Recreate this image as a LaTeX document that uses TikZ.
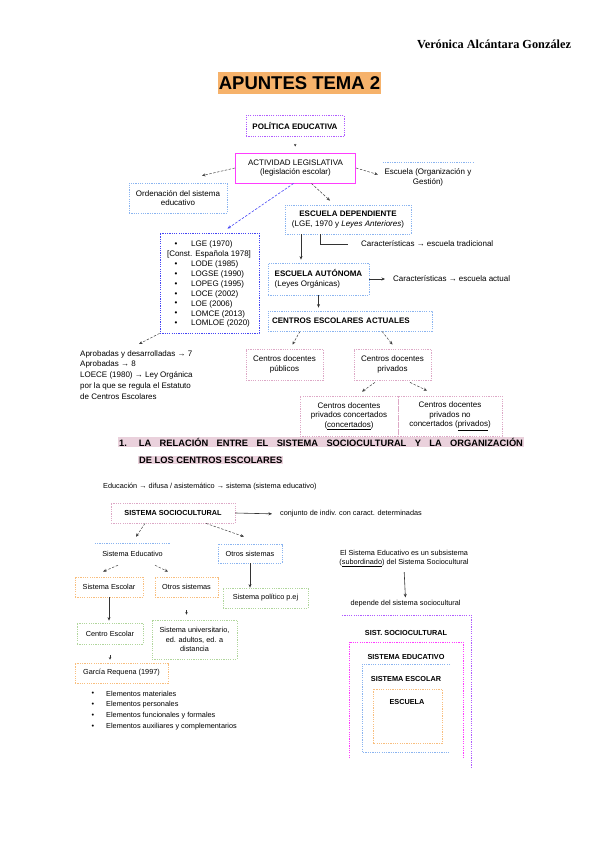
\documentclass[tikz,border=0pt]{standalone}
\usepackage{fontspec}
\setmainfont{Liberation Sans}
\newfontfamily\authorfont{Liberation Serif}
\usetikzlibrary{positioning, arrows.meta, calc}

\definecolor{lilac}{HTML}{B05CFF}
\definecolor{fuchsia}{HTML}{FF3DFF}
\definecolor{skyline}{HTML}{8AB4F0}
\definecolor{inkblue}{HTML}{4545F5}
\definecolor{rosy}{HTML}{DDA8C6}
\definecolor{peach}{HTML}{F8BE7E}
\definecolor{sage}{HTML}{B0D69C}
\definecolor{titlefill}{HTML}{F6B26B}
\definecolor{headfill}{HTML}{EAD1DC}

\begin{document}
\begin{tikzpicture}[
    x=1pt, y=-1pt,
    txt/.style={font=\fontsize{8}{9.8}\selectfont, align=center, inner sep=1pt},
    small/.style={font=\fontsize{7.3}{9.3}\selectfont, align=center, inner sep=1pt},
    dots/.style={dash pattern=on 1.2pt off 1.1pt, line width=0.75pt},
    lilacbox/.style={txt, draw=lilac, dots},
    bluebox/.style={txt, draw=skyline, dots},
    inkbox/.style={txt, draw=inkblue, dots},
    pinkbox/.style={txt, draw=rosy, dots},
    orangebox/.style={small, draw=peach, dots},
    greenbox/.style={small, draw=sage, dots},
    dasharrow/.style={-{Stealth[length=3.5pt,width=3pt]}, dash pattern=on 2.5pt off 1.5pt, line width=0.5pt, draw=black!75},
    solidarrow/.style={-{Stealth[length=3.5pt,width=3pt]}, line width=0.6pt, draw=black!80},
    bluearrow/.style={-{Stealth[length=3.5pt,width=3pt]}, dash pattern=on 2.5pt off 1.5pt, line width=0.6pt, draw=inkblue},
    tinyarrow/.style={-{Stealth[length=2.5pt,width=2.5pt]}, line width=0.5pt, draw=black!80}
]
\useasboundingbox (0,0) rectangle (600,848);

% cabecera
\node[font=\authorfont\bfseries\fontsize{12.3}{14}\selectfont] (author) at (494,44) {Verónica Alcántara González};
\node[fill=titlefill, font=\bfseries\fontsize{18.5}{19}\selectfont, inner xsep=1pt, minimum height=22] (title) at (299.5,83) {APUNTES TEMA 2};

% mapa de la legislacion
\node[lilacbox, minimum width=98, minimum height=21] (pol) at (295,126) {\textbf{POLÍTICA EDUCATIVA}};
\node[txt, draw=fuchsia, line width=1pt, minimum width=120, minimum height=30] (act) at (295.5,168) {ACTIVIDAD LEGISLATIVA\\(legislación escolar)};
\node[bluebox, minimum width=98, minimum height=30] (ord) at (178,198) {Ordenación del sistema\\educativo};
\node[txt, minimum width=90, minimum height=29] (gest) at (428,177.5) {Escuela (Organización y\\Gestión)};
\draw[skyline, dots] (gest.north west) -- (gest.north east);
\node[bluebox, minimum width=126, minimum height=29] (dep) at (348,219.5) {\textbf{ESCUELA DEPENDIENTE}\\(LGE, 1970 y \textit{Leyes Anteriores})};
\node[inkbox, minimum width=99, minimum height=100] (list) at (209.5,283) {};
\node[txt] (const) at (209,254.5) {[Const. Española 1978]};
\foreach \law/\ypos [count=\i] in {LGE (1970)/244.5, LODE (1985)/264.5, LOGSE (1990)/274.5, LOPEG (1995)/284.5, LOCE (2002)/294.5, LOE (2006)/304, LOMCE (2013)/314, LOMLOE (2020)/323.5}
{
    \node[txt] (dot\i) at (176,\ypos) {\textbullet};
    \node[txt, anchor=west] (law\i) at (190,\ypos) {\law};
}
\node[txt, anchor=west] (trad) at (360,244) {Características → escuela tradicional};
\node[bluebox, minimum width=101, minimum height=32, align=left] (aut) at (318.5,279) {\textbf{ESCUELA AUTÓNOMA}\\(Leyes Orgánicas)};
\node[txt, anchor=west] (actual) at (392,279) {Características → escuela actual};
\node[bluebox, minimum width=164, minimum height=20, text width=156, align=left] (cea) at (350,321) {\textbf{CENTROS ESCOLARES ACTUALES}};
\node[txt, align=left, anchor=north west, font=\fontsize{8}{10.8}\selectfont] (laws) at (79,349) {Aprobadas y desarrolladas → 7\\Aprobadas → 8\\LOECE (1980) → Ley Orgánica\\por la que se regula el Estatuto\\de Centros Escolares};
\node[pinkbox, minimum width=77, minimum height=31] (pub) at (284.5,364.5) {Centros docentes\\públicos};
\node[pinkbox, minimum width=77, minimum height=31] (priv) at (392.5,364.5) {Centros docentes\\privados};
\node[pinkbox, minimum width=98, minimum height=40] (conc) at (349,416) {Centros docentes\\privados concertados\\(\underline{concertados})};
\node[pinkbox, minimum width=104, minimum height=40] (noconc) at (450,416) {Centros docentes\\privados no\\concertados (\underline{privados})};

\draw[tinyarrow, shorten <=7pt, shorten >=6pt] (pol) -- (act);
\draw[dasharrow] (act.west) -- ([xshift=24pt,yshift=7pt]ord.north);
\draw[dasharrow] (act.east) -- ([xshift=-5pt,yshift=3pt]gest.west);
\draw[dasharrow] ([xshift=16pt]act.south) -- ([xshift=-18pt,yshift=4pt]dep.north);
\draw[bluearrow] ([xshift=-2pt]act.south) -- ([xshift=18pt,yshift=4pt]list.north);
\draw[dasharrow] (list.south west) -- ([xshift=60pt,yshift=5pt]laws.north west);
\draw[line width=0.6pt, draw=black!80, shorten >=12pt] ([xshift=-28pt]dep.south) |- (trad.west);
\draw[solidarrow, shorten >=3pt] ([xshift=-47pt]dep.south) -- ([xshift=-17.5pt]aut.north);
\draw[solidarrow, shorten >=7pt] (aut.east) -- (actual.west);
\draw[solidarrow, shorten >=3pt] (aut.south) -- (aut.south |- cea.north);
\draw[dasharrow] ([xshift=-50pt]cea.south) -- ([xshift=8pt,yshift=4pt]pub.north);
\draw[dasharrow] ([xshift=32pt]cea.south) -- ([yshift=4pt]priv.north);
\draw[dasharrow] ([xshift=-17.5pt,yshift=-2pt]priv.south) -- ([xshift=13pt,yshift=4pt]conc.north);
\draw[dasharrow] ([xshift=17.5pt,yshift=-2pt]priv.south) -- ([xshift=-23pt,yshift=5pt]noconc.north);

% apartado 1
\node[fill=headfill, inner sep=1pt, anchor=west, font=\bfseries\fontsize{9.3}{11}\selectfont] (head1) at (118,442) {1.\hspace{12pt}\makebox[384pt][s]{LA RELACIÓN ENTRE EL SISTEMA SOCIOCULTURAL Y LA ORGANIZACIÓN}};
\node[fill=headfill, inner sep=1pt, anchor=west, font=\bfseries\fontsize{9.3}{11}\selectfont] (head2) at (138,460) {DE LOS CENTROS ESCOLARES};

\node[small, anchor=west] (edu) at (102,487) {Educación → difusa / asistemático → sistema (sistema educativo)};
\node[pinkbox, small, minimum width=124, minimum height=20] (ssc) at (173,513) {\textbf{SISTEMA SOCIOCULTURAL}};
\node[small, anchor=west] (conj) at (279,514) {conjunto de indiv. con caract. determinadas};
\node[small, minimum width=75, minimum height=19] (sed) at (132.5,553.5) {Sistema Educativo};
\draw[skyline, dots] (sed.north west) -- (sed.north east);
\node[bluebox, small, minimum width=64, minimum height=19] (otr) at (250,553.5) {Otros sistemas};
\node[orangebox, minimum width=68, minimum height=20] (ses) at (109,587) {Sistema Escolar};
\node[orangebox, minimum width=63, minimum height=20] (otr2) at (186.5,587) {Otros sistemas};
\node[greenbox, minimum width=85, minimum height=20] (pol2) at (265.5,598) {Sistema político p.ej};
\node[greenbox, minimum width=66, minimum height=21] (cen) at (110,633.5) {Centro Escolar};
\node[greenbox, minimum width=85, minimum height=39] (univ) at (194.5,639.5) {Sistema universitario,\\ed. adultos, ed. a\\distancia};
\node[orangebox, minimum width=93, minimum height=20] (gar) at (121.5,673) {García Requena (1997)};
\foreach \elem [count=\i] in {Elementos materiales, Elementos personales, Elementos funcionales y formales, Elementos auxiliares y complementarios}
{
    \node[small] (bul\i) at (93,682.5+11*\i) {\textbullet};
    \node[small, anchor=west] (elem\i) at (105,682.5+11*\i) {\elem};
}

\draw[solidarrow, shorten >=7pt] (ssc.east) -- (conj.west);
\draw[dasharrow] ([xshift=-28pt]ssc.south) -- ([xshift=3.5pt,yshift=7pt]sed.north);
\draw[dasharrow] ([xshift=33pt]ssc.south) -- ([xshift=-6pt,yshift=7pt]otr.north);
\draw[dasharrow] ([xshift=-14.5pt,yshift=-2pt]sed.south) -- ([xshift=-6pt,yshift=5pt]ses.north);
\draw[dasharrow] ([xshift=22.5pt,yshift=-2pt]sed.south) -- ([xshift=-18.5pt,yshift=5pt]otr2.north);
\draw[solidarrow] (otr.south) -- (otr.south |- pol2.north);
\draw[solidarrow, shorten >=2pt] (ses.south) -- (ses.south |- cen.north);
\draw[tinyarrow, shorten <=13pt, shorten >=5pt] (otr2.south) -- (otr2.south |- univ.north);
\draw[tinyarrow, shorten <=11pt, shorten >=3pt] (cen.south) -- (cen.south |- gar.north);

% subsistemas
\node[small] (sub) at (404,558.5) {El Sistema Educativo es un subsistema\\(\underline{subordinado}) del Sistema Sociocultural};
\node[small] (dep2) at (405.5,604) {depende del sistema sociocultural};
\draw[solidarrow, shorten <=4pt, shorten >=2pt] (sub.south) -- (dep2.north);

\draw[lilac, dots] (342,615) -- (471,615) -- (471,767);
\draw[fuchsia, dots] (349,758) -- (349,642) -- (463,642) -- (463,758);
\draw[skyline, dots] (450,664) -- (362,664) -- (362,752) -- (450,752);
\draw[peach, dots] (373,689) rectangle (442,743);
\node[small, font=\bfseries\fontsize{7.3}{9}\selectfont] (sistsoc) at (406,633) {SIST. SOCIOCULTURAL};
\node[small, font=\bfseries\fontsize{7.3}{9}\selectfont] (sisted) at (406,657) {SISTEMA EDUCATIVO};
\node[small, font=\bfseries\fontsize{7.3}{9}\selectfont] (sistesc) at (406,679) {SISTEMA ESCOLAR};
\node[small, font=\bfseries\fontsize{7.3}{9}\selectfont] (escuela) at (407,702) {ESCUELA};
\end{tikzpicture}
\end{document}
